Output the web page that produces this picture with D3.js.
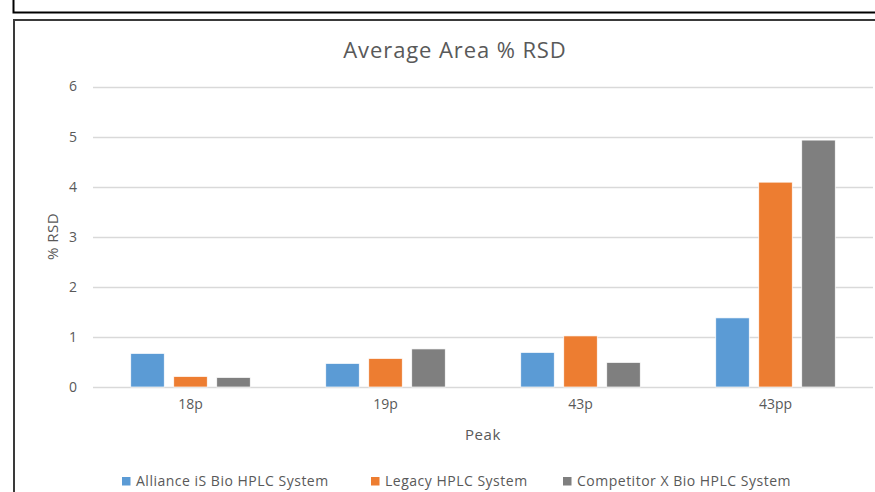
<!DOCTYPE html>
<html>
<head>
<meta charset="utf-8">
<script src="https://cdn.jsdelivr.net/npm/d3@7"></script>
<style>
  html, body { margin: 0; padding: 0; background: #fff; }
  svg { display: block; }
  text { font-family: "Open Sans", "DejaVu Sans", sans-serif; fill: #595959; }
</style>
</head>
<body>
<svg id="chart" width="875" height="492"></svg>
<script>
// Peaks on the x axis
const categories = ["18p", "19p", "43p", "43pp"];
// Series names and colours
const seriesNames = ["Alliance iS Bio HPLC System", "Legacy HPLC System", "Competitor X Bio HPLC System"];
const seriesColors = ["#5B9BD5", "#ED7D31", "#7F7F7F"];
// Average area %RSD per system, one value per peak
const allianceValues = [0.67, 0.47, 0.69, 1.38];
const legacyValues = [0.21, 0.57, 1.02, 4.09];
const competitorValues = [0.19, 0.76, 0.49, 4.93];
const yTicks = [0, 1, 2, 3, 4, 5, 6];

const seriesValues = [allianceValues, legacyValues, competitorValues];

const svg = d3.select("#chart");

// Outer boxes
svg.append("rect")
  .attr("x", 13.5).attr("y", -10).attr("width", 900).attr("height", 22.5)
  .attr("fill", "none").attr("stroke", "#000").attr("stroke-width", 2);
svg.append("rect")
  .attr("x", 14).attr("y", 20).attr("width", 900).attr("height", 500)
  .attr("fill", "#fff").attr("stroke", "#3a3a3a").attr("stroke-width", 2);

const x0 = d3.scaleBand().domain(categories).range([93, 873]).paddingInner(0).paddingOuter(0);
const y = d3.scaleLinear().domain([0, 6]).range([387, 86.5]);

// Gridlines
svg.append("g").selectAll("line").data(yTicks).join("line")
  .attr("x1", 93).attr("x2", 873)
  .attr("y1", d => Math.round(y(d)) + 0.5).attr("y2", d => Math.round(y(d)) + 0.5)
  .attr("stroke", "#D9D9D9").attr("stroke-width", 1.3);

// Y axis labels
const yAxis = d3.axisLeft(y).tickValues(yTicks).tickFormat(d3.format("d")).tickSize(0).tickPadding(0);
const gy = svg.append("g").attr("transform", "translate(77,0)").call(yAxis);
gy.select(".domain").remove();
gy.selectAll("text").attr("font-size", 14).attr("fill", "#595959")
  .style("font-family", "'Open Sans', sans-serif");

// X axis labels
const xAxis = d3.axisBottom(x0).tickSize(0).tickPadding(0);
const gx = svg.append("g").attr("transform", "translate(0,399)").call(xAxis);
gx.select(".domain").remove();
gx.selectAll("text").attr("font-size", 14).attr("fill", "#595959")
  .style("font-family", "'Open Sans', sans-serif");

// Bars
const bw = 33.5, gap = 9.5;
const groupW = 3 * bw + 2 * gap;
const x1 = d3.scaleBand().domain(d3.range(3)).range([0, groupW]).paddingInner(gap / (bw + gap)).paddingOuter(0);

const groups = svg.append("g").selectAll("g").data(categories).join("g")
  .attr("transform", d => `translate(${x0(d) + (x0.bandwidth() - groupW) / 2},0)`);
groups.selectAll("rect")
  .data((c, ci) => seriesValues.map((vals, si) => ({ si, v: vals[ci] })))
  .join("rect")
  .attr("x", d => x1(d.si))
  .attr("width", x1.bandwidth())
  .attr("y", d => y(d.v))
  .attr("height", d => y(0) - y(d.v))
  .attr("fill", d => seriesColors[d.si])
  .attr("stroke", "#fff").attr("stroke-width", 0.7);

// Title
svg.append("text").attr("x", 455).attr("y", 58).attr("text-anchor", "middle")
  .attr("font-size", 22).attr("letter-spacing", 0.9).text("Average Area % RSD");

// Axis titles
svg.append("text").attr("transform", "translate(57.5,236.5) rotate(-90)")
  .attr("text-anchor", "middle").attr("font-size", 15).attr("letter-spacing", 0.5).text("% RSD");
svg.append("text").attr("x", 483).attr("y", 440).attr("text-anchor", "middle")
  .attr("font-size", 15).attr("letter-spacing", 0.6).text("Peak");

// Legend
const legendX = [122, 371, 563];
const lg = svg.append("g").selectAll("g").data(seriesNames).join("g")
  .attr("transform", (d, i) => `translate(${legendX[i]},477)`);
lg.append("rect").attr("width", 8.5).attr("height", 8.5).attr("fill", (d, i) => seriesColors[i]);
lg.append("text").attr("x", 14).attr("y", 8.5).attr("font-size", 14).attr("letter-spacing", 0.5).text(d => d);
</script>
</body>
</html>
